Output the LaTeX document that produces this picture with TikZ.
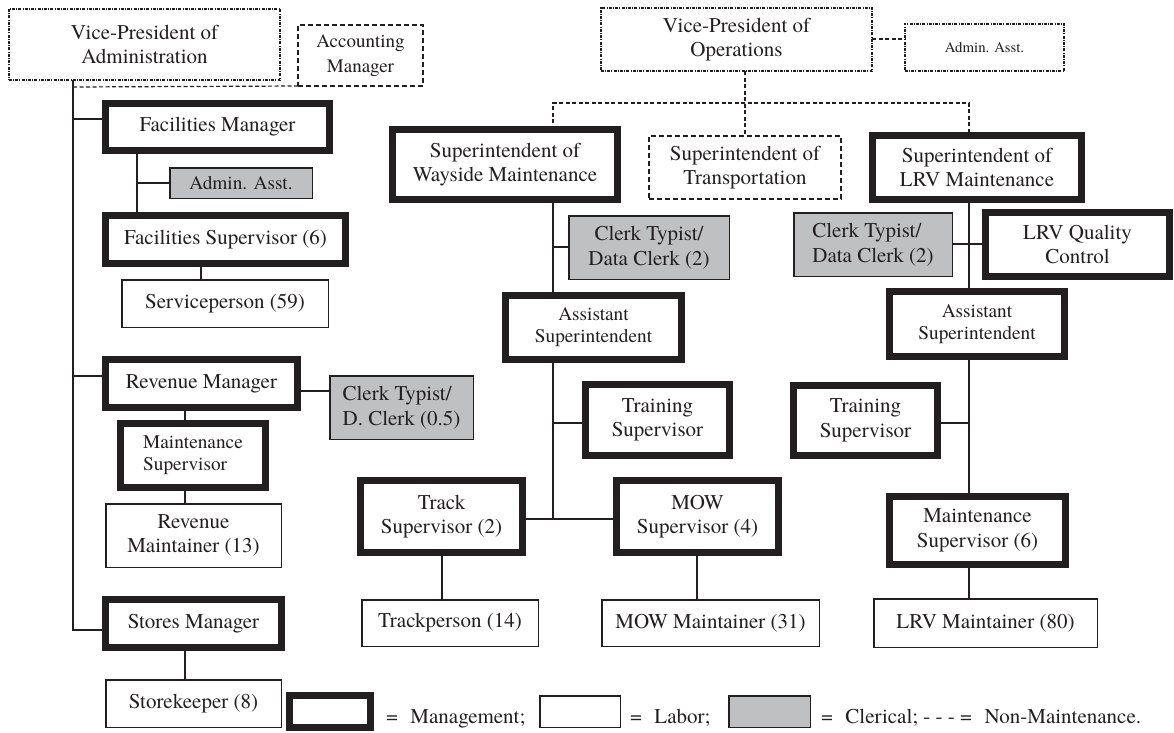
\documentclass[tikz,border=0pt]{standalone}
\usepackage{fontspec}
\setmainfont{texgyretermes-regular.otf}
\newfontfamily\tms{texgyretermes-regular.otf}
\newcommand\fmain{\tms\fontsize{21}{24.5}\selectfont}
\newcommand\fsmall{\tms\fontsize{19.3}{22}\selectfont}
\newcommand\facc{\tms\fontsize{19}{25}\selectfont}
\newcommand\ftiny{\tms\fontsize{14.8}{18}\selectfont}
\definecolor{ink}{RGB}{35,31,32}
\definecolor{clerk}{RGB}{191,192,194}
\tikzset{
 every node/.style={text=ink, font=\fmain, inner sep=0pt, outer sep=0pt},
 mgmt/.style={draw=ink, line width=7pt, fill=white, align=center},
 labor/.style={draw=ink, line width=1.5pt, fill=white, align=center},
 cler/.style={draw=ink, line width=1.5pt, fill=clerk, align=center},
 nonm/.style={draw=ink, line width=1.6pt, dash pattern=on 3pt off 1.2pt on 1pt off 1.2pt, fill=white, align=center},
 nond/.style={draw=ink, line width=2pt, dash pattern=on 5pt off 3pt, fill=white, align=center},
 link/.style={draw=ink, line width=1.3pt},
 dlink/.style={draw=ink, line width=1.2pt, dash pattern=on 4pt off 2.5pt},
 legtext/.style={anchor=base west},
}
% #1 style, #2 inset, #3 name, #4 x1, #5 y1, #6 x2, #7 y2, #8 text
\newcommand\onode[8]{\node[#1, minimum width={(#6)-(#4)-2*(#2)}, minimum height={(#7)-(#5)-2*(#2)}] (#3) at ({((#4)+(#6))/2},{((#5)+(#7))/2}) {#8};}
\begin{document}
\begin{tikzpicture}[x=1pt,y=-1pt]
\useasboundingbox (0,0) rectangle (1174,732);
% --- Administration ---
\onode{nonm}{0.8}{vpa}{8}{8}{281}{81}{Vice-President of\\Administration}
\onode{nond, font=\facc}{1}{acc}{297}{24}{424}{87}{Accounting\\Manager}
\onode{mgmt}{3.5}{fm}{102}{100}{333}{154}{Facilities Manager}
\onode{cler, font=\fsmall}{0.75}{aal}{169}{167}{313}{199}{Admin. Asst.}
\onode{mgmt}{3.5}{fs}{102}{212}{349}{267}{Facilities Supervisor (6)}
\onode{labor}{0.75}{sp}{121}{279}{329}{328}{Serviceperson (59)}
\onode{mgmt}{3.5}{rm}{102}{356}{301}{411}{Revenue Manager}
\onode{cler, align=left}{0.75}{ctl}{329}{375}{474}{440}{Clerk Typist/\\D. Clerk (0.5)}
\onode{mgmt, align=left, font=\fsmall}{3.5}{msl}{117}{420}{269}{491}{Maintenance\\Supervisor}
\onode{labor}{0.75}{rmt}{105}{503}{282}{568}{Revenue\\Maintainer (13)}
\onode{mgmt}{3.5}{sm}{102}{596}{285}{651}{Stores Manager}
\onode{labor}{0.75}{sk}{105}{679}{282}{728}{Storekeeper (8)}
% --- Operations ---
\onode{nonm}{0.8}{vpo}{600}{7}{873}{72}{Vice-President of\\Operations}
\onode{nonm, font=\ftiny}{0.8}{aao}{904}{23}{1065}{72}{Admin. Asst.}
\onode{mgmt}{3.5}{sw}{389}{126}{621}{203}{Superintendent of\\Wayside Maintenance}
\onode{nond}{1}{str}{648}{135}{842}{200}{Superintendent of\\Transportation}
\onode{mgmt}{3.5}{slrv}{869}{132}{1085}{203}{Superintendent of\\LRV Maintenance}
\onode{cler}{0.75}{ctm}{568}{215}{730}{280}{Clerk Typist/\\Data Clerk (2)}
\onode{mgmt, font=\fsmall}{3.5}{asm}{502}{292}{685}{363}{Assistant\\Superintendent}
\onode{mgmt}{3.5}{tsm}{582}{381}{733}{459}{Training\\Supervisor}
\onode{mgmt}{3.5}{trk}{357}{477}{526}{556}{Track\\Supervisor (2)}
\onode{mgmt}{3.5}{mow}{613}{477}{782}{556}{MOW\\Supervisor (4)}
\onode{labor}{0.75}{tp}{361}{599}{539}{647}{Trackperson (14)}
\onode{labor}{0.75}{mm}{601}{599}{820}{647}{MOW Maintainer (31)}
\onode{cler, align=left}{0.75}{ctr}{793}{212}{953}{277}{Clerk Typist/\\Data Clerk (2)}
\onode{mgmt}{3.5}{lqc}{982}{209}{1173}{280}{LRV Quality\\Control}
\onode{mgmt, font=\fsmall}{3.5}{asr}{886}{288}{1068}{360}{Assistant\\Superintendent}
\onode{mgmt}{3.5}{tsr}{790}{382}{941}{459}{Training\\Supervisor}
\onode{mgmt}{3.5}{msr}{886}{493}{1069}{568}{Maintenance\\Supervisor (6)}
\onode{labor}{0.75}{lm}{873}{598}{1098}{648}{LRV Maintainer (80)}
% --- Legend ---
\onode{mgmt}{3.5}{lgm}{286}{692}{374}{731}{}
\node[legtext] (lgmt) at (386,723) {=\hspace{0.6em}Management;};
\onode{labor}{0.75}{lgl}{539}{695}{621}{728}{}
\node[legtext] (lglt) at (630,723) {=\hspace{0.6em}Labor;};
\onode{cler}{0.75}{lgc}{728}{695}{811}{728}{}
\node[legtext] (lgct) at (821,723) {=\hspace{0.6em}Clerical; - - - =\hspace{0.6em}Non-Maintenance.};
% --- helper coordinates ---
\coordinate (cL) at (73,0);
\coordinate (cF) at (137,0);
\coordinate (cS) at (201,0);
\coordinate (cR) at (185,0);
\coordinate (cW) at (553,0);
\coordinate (cO) at (745,0);
\coordinate (cV) at (969,0);
\coordinate (cT) at (442,0);
\coordinate (cM) at (697,0);
\coordinate (r39) at (0,39);
\coordinate (r87) at (0,87);
\coordinate (r103) at (0,103);
\coordinate (r119) at (0,119);
\coordinate (r183) at (0,183);
\coordinate (r244) at (0,244);
\coordinate (r247) at (0,247);
\coordinate (r376) at (0,376);
\coordinate (r391) at (0,391);
\coordinate (r423) at (0,423);
\coordinate (r519) at (0,519);
\coordinate (r630) at (0,630);
% --- Administration connectors ---
\draw[link] (vpa.south -| cL) -- (cL |- r630) -- (sm.west |- r630);
\draw[dlink] (cL |- r87) -- (acc.south west);
\draw[link] (cL |- r119) -- (fm.west |- r119);
\draw[link] (cL |- r376) -- (rm.west |- r376);
\draw[link] (fm.south -| cF) -- (fs.north -| cF);
\draw[link] (cF |- r183) -- (aal.west |- r183);
\draw[link] (fs.south -| cS) -- (sp.north -| cS);
\draw[link] (rm.east |- r391) -- (ctl.west |- r391);
\draw[link] (rm.south -| cR) -- (msl.north -| cR);
\draw[link] (msl.south -| cR) -- (rmt.north -| cR);
\draw[link] (sm.south -| cR) -- (sk.north -| cR);
% --- Operations connectors ---
\draw[dlink] (vpo.east |- r39) -- (aao.west |- r39);
\draw[dlink] (vpo.south -| cO) -- (str.north -| cO);
\draw[dlink] (sw.north -| cW) -- (cW |- r103) -- (cV |- r103) -- (slrv.north -| cV);
\draw[link] (sw.south -| cW) -- (asm.north -| cW);
\draw[link] (cW |- r247) -- (ctm.west |- r247);
\draw[link] (asm.south -| cW) -- (cW |- r519);
\draw[link] (cW |- r423) -- (tsm.west |- r423);
\draw[link] (trk.east |- r519) -- (mow.west |- r519);
\draw[link] (trk.south -| cT) -- (tp.north -| cT);
\draw[link] (mow.south -| cM) -- (mm.north -| cM);
\draw[link] (slrv.south -| cV) -- (asr.north -| cV);
\draw[link] (ctr.east |- r244) -- (lqc.west |- r244);
\draw[link] (asr.south -| cV) -- (msr.north -| cV);
\draw[link] (cV |- r423) -- (tsr.east |- r423);
\draw[link] (msr.south -| cV) -- (lm.north -| cV);
\end{tikzpicture}
\end{document}
